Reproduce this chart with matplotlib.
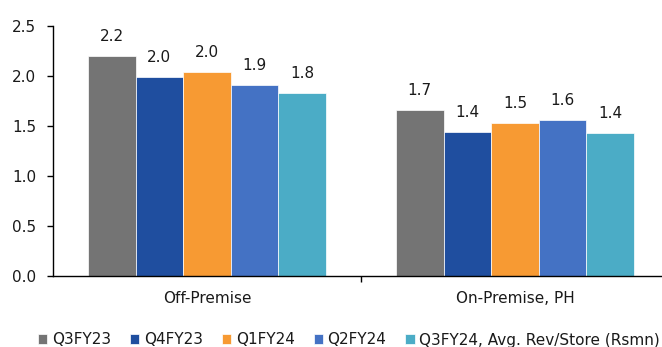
import matplotlib
matplotlib.use("Agg")
import matplotlib.pyplot as plt
import numpy as np

categories = ["Off-Premise", "On-Premise, PH"]
series_names = ["Q3FY23", "Q4FY23", "Q1FY24", "Q2FY24", "Q3FY24, Avg. Rev/Store (Rsmn)"]
q3fy23 = [2.20, 1.66]
q4fy23 = [1.99, 1.44]
q1fy24 = [2.04, 1.53]
q2fy24 = [1.91, 1.56]
q3fy24 = [1.83, 1.43]
colors = ["#747474", "#1F4E9F", "#F79A33", "#4472C4", "#4BACC6"]
yticks = [0.0, 0.5, 1.0, 1.5, 2.0, 2.5]

series = [q3fy23, q4fy23, q1fy24, q2fy24, q3fy24]

plt.rcParams['font.family'] = ['DejaVu Sans']
fs = 11
tc = '#1a1a1a'

fig = plt.figure(figsize=(6.62, 3.47), dpi=100)
ax = fig.add_axes([53/662, 71/347, 616/662, 250/347])

x = np.arange(len(categories))
w = 0.1545
for i, (vals, c, name) in enumerate(zip(series, colors, series_names)):
    pos = x + (i - 2) * w
    bars = ax.bar(pos, vals, width=w, color=c, label=name, edgecolor='white', linewidth=0.5)
    for b, v in zip(bars, vals):
        ax.annotate(f"{v:.1f}", (b.get_x() + b.get_width()/2, v), xytext=(0, 8.5),
                    textcoords='offset points', ha='center', va='bottom', fontsize=fs, color=tc)

ax.set_xlim(-0.5, 1.5)
ax.set_ylim(0, 2.5)
ax.set_yticks(yticks)
ax.set_yticklabels([f"{t:.1f}" for t in yticks], fontsize=fs, color=tc)
ax.set_xticks(x)
ax.set_xticklabels(categories, fontsize=fs, color=tc)
ax.tick_params(axis='x', length=0, pad=11)
ax.set_xticks([0.5, 1.5], minor=True)
ax.tick_params(axis='x', which='minor', length=4, width=1)
ax.tick_params(axis='y', length=4, width=1, pad=8)
for s in ['top', 'right']:
    ax.spines[s].set_visible(False)
ax.spines['left'].set_linewidth(1)
ax.spines['bottom'].set_linewidth(1)

leg = fig.legend(loc='center', bbox_to_anchor=(349/662, 1 - 340/347), ncol=5, frameon=False,
                 fontsize=fs, handlelength=0.6, handleheight=0.6, handletextpad=0.3,
                 columnspacing=1.25, borderaxespad=0, borderpad=0)
for t in leg.get_texts():
    t.set_color(tc)

fig.savefig("out.png", dpi=100)
